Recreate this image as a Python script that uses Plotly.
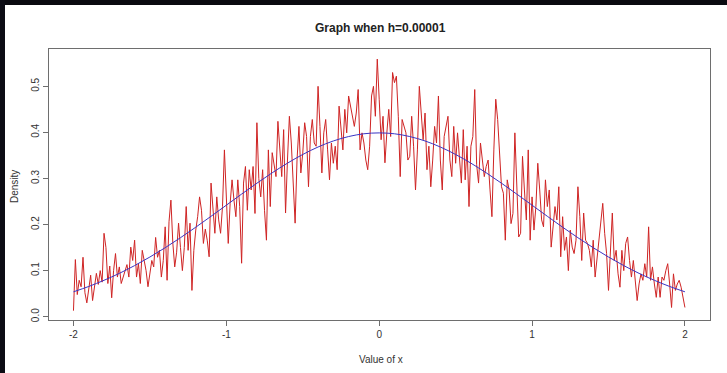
import plotly.graph_objects as go

# --- data -----------------------------------------------------------
x_start, x_step, n_pts = -2.0, 0.0125, 321
x_vals = [round(x_start + x_step * i, 4) for i in range(n_pts)]

est_density = [
    0.013, 0.124, 0.048, 0.079, 0.065, 0.129, 0.052, 0.030, 0.060, 0.090, 0.035, 0.060, 0.094, 0.070, 0.100, 0.075,
    0.181, 0.150, 0.072, 0.110, 0.041, 0.100, 0.137, 0.086, 0.108, 0.072, 0.086, 0.100, 0.113, 0.086, 0.151, 0.122,
    0.166, 0.086, 0.115, 0.072, 0.144, 0.122, 0.100, 0.065, 0.090, 0.122, 0.108, 0.172, 0.129, 0.144, 0.086, 0.122,
    0.195, 0.079, 0.206, 0.253, 0.160, 0.108, 0.140, 0.203, 0.150, 0.100, 0.150, 0.239, 0.144, 0.203, 0.057, 0.144,
    0.188, 0.217, 0.260, 0.231, 0.159, 0.190, 0.166, 0.130, 0.290, 0.239, 0.181, 0.260, 0.210, 0.181, 0.239, 0.362,
    0.275, 0.159, 0.246, 0.297, 0.253, 0.217, 0.297, 0.239, 0.116, 0.290, 0.326, 0.231, 0.319, 0.275, 0.326, 0.224,
    0.421, 0.300, 0.260, 0.319, 0.230, 0.166, 0.362, 0.239, 0.356, 0.326, 0.304, 0.424, 0.370, 0.304, 0.406, 0.225,
    0.340, 0.435, 0.377, 0.275, 0.203, 0.340, 0.413, 0.312, 0.355, 0.421, 0.391, 0.282, 0.391, 0.428, 0.377, 0.370,
    0.500, 0.413, 0.312, 0.399, 0.428, 0.362, 0.297, 0.377, 0.333, 0.370, 0.319, 0.457, 0.413, 0.362, 0.450, 0.399,
    0.479, 0.457, 0.435, 0.413, 0.442, 0.493, 0.362, 0.399, 0.377, 0.340, 0.319, 0.370, 0.479, 0.500, 0.435, 0.559,
    0.472, 0.384, 0.435, 0.334, 0.399, 0.450, 0.391, 0.530, 0.508, 0.522, 0.435, 0.304, 0.428, 0.413, 0.399, 0.340,
    0.348, 0.435, 0.370, 0.275, 0.362, 0.500, 0.435, 0.384, 0.442, 0.319, 0.370, 0.282, 0.340, 0.413, 0.377, 0.479,
    0.340, 0.275, 0.391, 0.413, 0.435, 0.340, 0.304, 0.413, 0.333, 0.399, 0.348, 0.290, 0.406, 0.297, 0.370, 0.239,
    0.370, 0.391, 0.493, 0.330, 0.290, 0.377, 0.340, 0.304, 0.326, 0.340, 0.275, 0.217, 0.362, 0.472, 0.428, 0.355,
    0.282, 0.268, 0.166, 0.297, 0.275, 0.202, 0.224, 0.399, 0.282, 0.173, 0.181, 0.348, 0.275, 0.210, 0.362, 0.166,
    0.260, 0.188, 0.239, 0.333, 0.275, 0.210, 0.195, 0.297, 0.239, 0.275, 0.151, 0.202, 0.239, 0.210, 0.282, 0.130,
    0.217, 0.144, 0.173, 0.100, 0.188, 0.151, 0.137, 0.166, 0.282, 0.217, 0.122, 0.225, 0.166, 0.159, 0.144, 0.108,
    0.166, 0.086, 0.130, 0.159, 0.217, 0.246, 0.181, 0.137, 0.057, 0.159, 0.225, 0.122, 0.144, 0.093, 0.064, 0.144,
    0.100, 0.159, 0.173, 0.122, 0.086, 0.122, 0.071, 0.035, 0.071, 0.093, 0.079, 0.115, 0.086, 0.195, 0.079, 0.108,
    0.071, 0.042, 0.086, 0.042, 0.086, 0.079, 0.100, 0.115, 0.071, 0.020, 0.093, 0.057, 0.071, 0.079, 0.064, 0.042, 0.020,
]

curve_x = [-2.0, -1.9, -1.8, -1.7, -1.6, -1.5, -1.4, -1.3, -1.2, -1.1, -1.0,
           -0.9, -0.8, -0.7, -0.6, -0.5, -0.4, -0.3, -0.2, -0.1, 0.0,
           0.1, 0.2, 0.3, 0.4, 0.5, 0.6, 0.7, 0.8, 0.9, 1.0,
           1.1, 1.2, 1.3, 1.4, 1.5, 1.6, 1.7, 1.8, 1.9, 2.0]
curve_y = [0.0540, 0.0656, 0.0790, 0.0940, 0.1109, 0.1295, 0.1497, 0.1714, 0.1942, 0.2179, 0.2420,
           0.2661, 0.2897, 0.3123, 0.3332, 0.3521, 0.3683, 0.3814, 0.3910, 0.3970, 0.3989,
           0.3970, 0.3910, 0.3814, 0.3683, 0.3521, 0.3332, 0.3123, 0.2897, 0.2661, 0.2420,
           0.2179, 0.1942, 0.1714, 0.1497, 0.1295, 0.1109, 0.0940, 0.0790, 0.0656, 0.0540]

x_ticks = [-2, -1, 0, 1, 2]
x_tick_labels = ["-2", "-1", "0", "1", "2"]
y_ticks = [0.0, 0.1, 0.2, 0.3, 0.4, 0.5]
y_tick_labels = ["0.0", "0.1", "0.2", "0.3", "0.4", "0.5"]

title_text = "Graph when h=0.00001"
x_label = "Value of x"
y_label = "Density"

# --- figure ---------------------------------------------------------
FONT = "Liberation Sans, Arial, sans-serif"
W, H = 727, 373
L, R, T, B = 49, 17, 49, 53
pw, ph = W - L - R, H - T - B

fig = go.Figure()
fig.add_trace(go.Scatter(x=x_vals, y=est_density, mode="lines",
                         line=dict(color="#cf2424", width=1), hoverinfo="skip"))
fig.add_trace(go.Scatter(x=curve_x, y=curve_y, mode="lines", line_shape="spline",
                         line=dict(color="#3a34c4", width=1), hoverinfo="skip"))

def px_x(p):
    return (p - L) / pw

def px_y(p):
    return 1 - (p - T) / ph

axis_common = dict(showgrid=False, zeroline=False, showline=True, mirror=True,
                   linecolor="#6e6e6e", linewidth=1, ticks="outside", ticklen=5,
                   tickcolor="#6e6e6e", tickfont=dict(family=FONT, size=10, color="#333"))

fig.update_layout(
    width=W, height=H, margin=dict(l=L, r=R, t=T, b=B),
    paper_bgcolor="white", plot_bgcolor="white", showlegend=False,
    xaxis=dict(range=[-2.16, 2.164], tickvals=x_ticks, ticktext=x_tick_labels, **axis_common),
    yaxis=dict(range=[-0.0072, 0.581], tickvals=y_ticks, ticktext=y_tick_labels,
               tickangle=-90, **axis_common),
    annotations=[
        dict(text="<b>" + title_text + "</b>", x=px_x(380), y=px_y(28), xref="paper", yref="paper",
             xanchor="center", yanchor="middle",
             showarrow=False, font=dict(family=FONT, size=12, color="#222")),
        dict(text=x_label, x=px_x(381), y=px_y(359), xref="paper", yref="paper",
             xanchor="center", yanchor="middle",
             showarrow=False, font=dict(family=FONT, size=10, color="#333")),
        dict(text=y_label, x=px_x(14), y=px_y(187), xref="paper", yref="paper", textangle=-90,
             xanchor="center", yanchor="middle",
             showarrow=False, font=dict(family=FONT, size=10, color="#333")),
    ],
    shapes=[
        dict(type="rect", xref="paper", yref="paper", x0=px_x(0), x1=px_x(W), y0=px_y(5), y1=px_y(0),
             fillcolor="#0a0a10", line_width=0, layer="above"),
        dict(type="rect", xref="paper", yref="paper", x0=px_x(0), x1=px_x(5), y0=px_y(H), y1=px_y(0),
             fillcolor="#0c0c14", line_width=0, layer="above"),
    ],
)

fig.write_html("out.html")
